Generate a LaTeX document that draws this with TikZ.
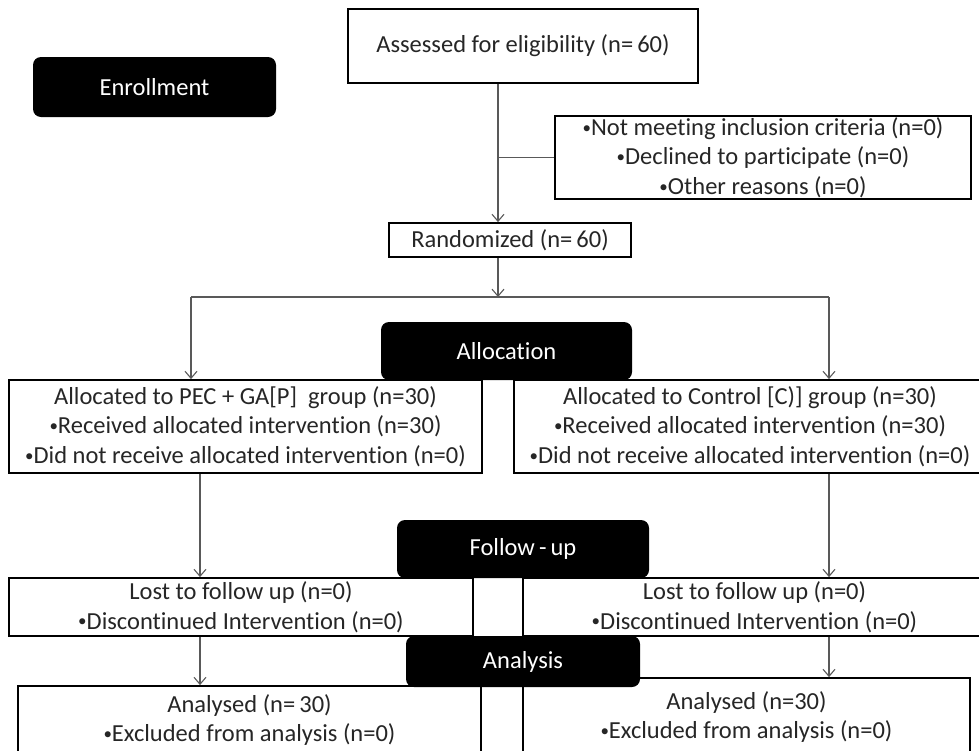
\documentclass[tikz,border=0pt]{standalone}
\usepackage{fontspec}
\setmainfont[Ligatures={NoCommon}]{Carlito}
\usetikzlibrary{arrows.meta}
\newcommand{\bul}{{\fontsize{17}{17}\selectfont\raisebox{0.12em}{•}}}
\begin{document}
\begin{tikzpicture}[x=1pt,y=-1pt,
  box/.style={draw=black,line width=1.8pt,fill=white,inner sep=0pt,align=center,
    font=\fontsize{24.5}{29.5}\selectfont,text=black!85},
  phase/.style={fill=black,rounded corners=8pt,text=white,inner sep=0pt,
    font=\fontsize{24.5}{29}\selectfont},
  txt/.style={inner sep=0pt,align=center,font=\fontsize{24.5}{29.5}\selectfont,text=black!85},
  conn/.style={draw=black!65,line width=1.1pt,-{Straight Barb[length=7pt,width=12pt]}},
  link/.style={draw=black!65,line width=1.1pt}]
\path[use as bounding box] (0,0) rectangle (979,750);
\clip (0,0) rectangle (979,750);

% column coordinates
\coordinate (mx) at (498,0);
\coordinate (lx) at (191,0);
\coordinate (lx2) at (200,0);
\coordinate (rx) at (829,0);
\coordinate (hy) at (0,297);

% enrollment
\node[phase,minimum width=243pt,minimum height=60pt] (enr) at (154.5,87) {Enrollment};
\node[box,minimum width=350pt,minimum height=74pt] (ass) at (523,46) {Assessed for eligibility (n=\,60)};
\node[box,minimum width=416pt,minimum height=83pt] (exc) at (763,157.5)
  {\bul Not meeting inclusion criteria (n=0)\\\bul Declined to participate (n=0)\\\bul Other reasons (n=0)};
\node[box,minimum width=242pt,minimum height=34pt] (ran) at (510,240) {Randomized (n=\,60)};

% allocation
\node[phase,minimum width=251pt,minimum height=58pt] (alloc) at (506.5,351) {Allocation};
\node[box,minimum width=473pt,minimum height=93pt] (al1) at (245.5,426.5)
  {Allocated to PEC + GA[P]\ \ group (n=30)\\\bul Received allocated intervention (n=30)\\\bul Did not receive allocated intervention (n=0)};
\node[box,minimum width=472pt,minimum height=93pt] (al2) at (750,426.5)
  {Allocated to Control [C)] group (n=30)\\\bul Received allocated intervention (n=30)\\\bul Did not receive allocated intervention (n=0)};

% follow-up
\node[phase,minimum width=252pt,minimum height=58pt] (fol) at (523,549) {Follow\,-\,up};
\node[box,minimum width=464pt,minimum height=58pt] (fo1) at (241,607)
  {Lost to follow up (n=0)\\\bul Discontinued Intervention (n=0)};
\node[box,minimum width=463pt,minimum height=58pt] (fo2) at (754.5,607)
  {Lost to follow up (n=0)\\\bul Discontinued Intervention (n=0)};

% analysis
\node[box,minimum width=463pt,minimum height=92pt] (an1) at (249.5,732) {};
\node[box,minimum width=447pt,minimum height=92pt] (an2) at (746.5,724) {};
\node[txt] (an1t) at (249.5,720) {Analysed (n=\,30)\\\bul Excluded from analysis (n=0)};
\node[txt] (an2t) at (746.5,717) {Analysed (n=30)\\\bul Excluded from analysis (n=0)};
\node[phase,minimum width=234pt,minimum height=51pt] (ana) at (523,661.5) {Analysis};

% connectors
\draw[conn] (ass.south -| mx) -- (ran.north -| mx);
\draw[link] (mx |- exc.west) -- (exc.west);
\draw[conn] (ran.south -| mx) -- (mx |- hy);
\draw[link] (lx |- hy) -- (rx |- hy);
\draw[conn] (lx |- hy) -- (al1.north -| lx);
\draw[conn] (rx |- hy) -- (al2.north -| rx);
\draw[conn] (al1.south -| lx2) -- (fo1.north -| lx2);
\draw[conn] (al2.south -| rx) -- (fo2.north -| rx);
\draw[conn] (fo1.south -| lx2) -- (an1.north -| lx2);
\draw[conn] (fo2.south -| rx) -- (an2.north -| rx);
\end{tikzpicture}
\end{document}
